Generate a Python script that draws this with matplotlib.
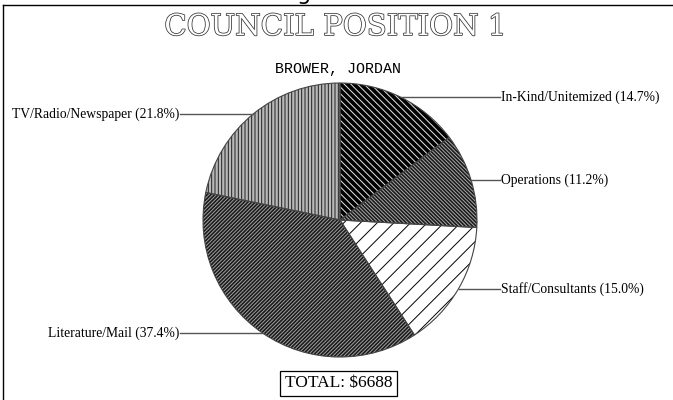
# Council Position 1 - campaign expenditure pie

import numpy as np
import matplotlib.pyplot as plt
import matplotlib.patheffects as pe

# Данные
title = 'COUNCIL POSITION 1'
candidate = 'BROWER, JORDAN'
categories = ['In-Kind/Unitemized', 'Operations', 'Staff/Consultants',
              'Literature/Mail', 'TV/Radio/Newspaper']
shares = [14.7, 11.2, 15.0, 37.4, 21.8]
total = 6688

# Стили секторов (заливка, цвет штриховки, штриховка)
faces = ['black', '#1a1a1a', 'white', '#1a1a1a', '#b8b8b8']
hatch_colors = ['#e8e8e8', '#a8a8a8', 'black', '#a0a0a0', '#202020']
hatches = ['\\' * 5, '\\' * 9, '/' * 2, '/' * 9, '|' * 5]

plt.rcParams['hatch.linewidth'] = 0.7

W, H = 673, 400
fig = plt.figure(figsize=(W / 100, H / 100), dpi=100)
ax = fig.add_axes([0, 0, 1, 1])

cx, cy, r = 340, H - 220, 137

wedges, _ = ax.pie(shares, startangle=90, counterclock=False,
                   center=(cx, cy), radius=r, colors=faces,
                   wedgeprops=dict(linewidth=0))
for w, hc, h in zip(wedges, hatch_colors, hatches):
    w.set_edgecolor(hc)
    w.set_hatch(h)

# контуры секторов
ax.pie(shares, startangle=90, counterclock=False, center=(cx, cy), radius=r,
       wedgeprops=dict(fill=False, edgecolor='#444444', linewidth=0.8))

ax.set_xlim(0, W)
ax.set_ylim(0, H)
ax.set_aspect('auto')
ax.axis('off')

# подписи с выносками
lab_font = dict(family='Liberation Serif', fontsize=9.8, color='black')
for w, cat, s in zip(wedges, categories, shares):
    ang = np.deg2rad((w.theta1 + w.theta2) / 2)
    px = cx + r * np.cos(ang)
    py = cy + r * np.sin(ang)
    if np.cos(ang) > 0:
        x_end = cx + 160
        ax.plot([px, x_end], [py, py], color='#555555', lw=1)
        ax.text(x_end + 1, py, f'{cat} ({s:.1f}%)', ha='left', va='center', **lab_font)
    else:
        x_end = cx - 160
        ax.plot([px, x_end], [py, py], color='#555555', lw=1)
        ax.text(x_end - 1, py, f'{cat} ({s:.1f}%)', ha='right', va='center', **lab_font)

# заголовок (контурный шрифт)
ax.text(335, H - 35, title, ha='center', va='baseline', family='DejaVu Serif',
        fontsize=21, color='white',
        path_effects=[pe.withStroke(linewidth=1.1, foreground='#333333')])
ax.text(338, H - 73, candidate, ha='center', va='baseline',
        family='Liberation Mono', fontsize=10.8, color='black')

ax.text(338.5, H - 383.5, f'TOTAL: ${total}', ha='center', va='center',
        family='Liberation Serif', fontsize=12.5,
        bbox=dict(boxstyle='square,pad=0.25', fc='white', ec='black', lw=0.9))

# рамка и обрезанный текст сверху
ax.plot([3, 3], [0, H - 5], color='black', lw=1)
ax.plot([3, W], [H - 5, H - 5], color='black', lw=1)
ax.text(304, H + 0.5, 'g', ha='center', va='baseline', family='DejaVu Sans',
        fontsize=16, color='black')

fig.savefig('out.png', dpi=100)
